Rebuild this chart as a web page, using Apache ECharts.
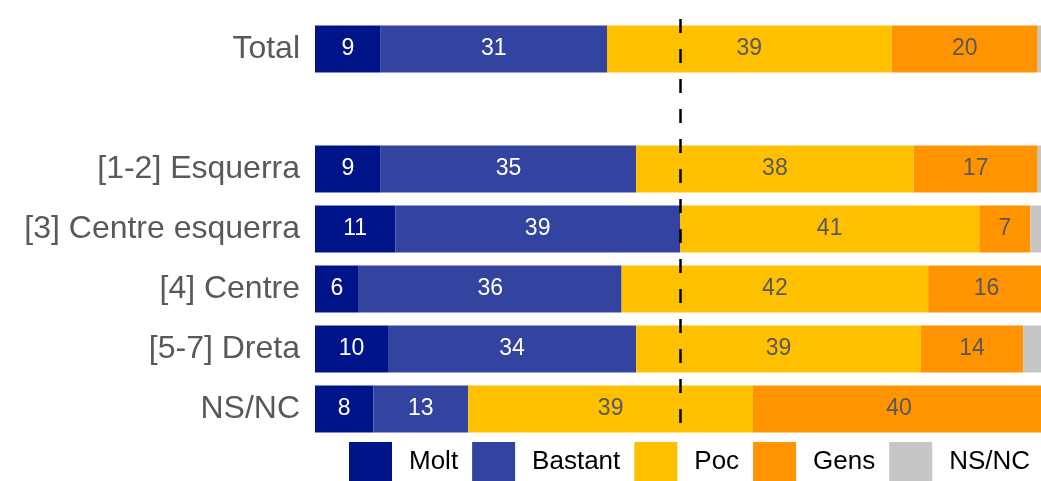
<!DOCTYPE html>
<html>
<head>
<meta charset="utf-8">
<style>
  html, body { margin: 0; padding: 0; background: #fff; }
  #chart { width: 1041px; height: 481px; }
</style>
<script src="https://cdn.jsdelivr.net/npm/echarts@6/dist/echarts.min.js"></script>
</head>
<body>
<div id="chart"></div>
<script>
// categories (the empty one is the gap under Total)
var categories = ['Total', '', '[1-2] Esquerra', '[3] Centre esquerra', '[4] Centre', '[5-7] Dreta', 'NS/NC'];

var molt    = [9,  '-', 9,  11, 6,  10, 8];
var bastant = [31, '-', 35, 39, 36, 34, 13];
var poc     = [39, '-', 38, 41, 42, 39, 39];
var gens    = [20, '-', 17, 7,  16, 14, 40];
var nsnc    = [1,  '-', 1,  2,  0,  3,  0];

var seriesNames = ['Molt', 'Bastant', 'Poc', 'Gens', 'NS/NC'];
var colors = ['#00148a', '#3343a0', '#ffc000', '#ff9400', '#c6c6c6'];
var labelColors = ['#ffffff', '#ffffff', '#595959', '#595959', null];
var midLine = 50;

var chart = echarts.init(document.getElementById('chart'));

var values = [molt, bastant, poc, gens, nsnc];
var series = [];
for (var i = 0; i < values.length; i++) {
    var s = {
        name: seriesNames[i],
        type: 'bar',
        stack: 'total',
        barWidth: 47,
        data: values[i],
        itemStyle: {color: colors[i]},
        label: {
            show: labelColors[i] !== null,
            position: 'inside',
            color: labelColors[i] || '#595959',
            fontSize: 23,
            fontFamily: 'Liberation Sans, Arial, sans-serif'
        }
    };
    if (i === 0) {
        // linia discontinua al 50%
        s.markLine = {
            silent: true,
            symbol: ['none', 'none'],
            label: {show: false},
            lineStyle: {color: '#000', width: 2.5, type: [14, 16]},
            data: [{xAxis: midLine}]
        };
    }
    series.push(s);
}

chart.setOption({
    animation: false,
    grid: {left: 315, top: 19, width: 730, height: 420, outerBoundsMode: 'none', containLabel: false},
    xAxis: {
        type: 'value',
        min: 0,
        max: 100,
        show: false
    },
    yAxis: {
        type: 'category',
        data: categories,
        inverse: true,
        axisLine: {show: false},
        axisTick: {show: false},
        axisLabel: {
            margin: 15,
            color: '#595959',
            fontSize: 32,
            fontFamily: 'Liberation Sans, Arial, sans-serif'
        }
    },
    legend: {
        left: 349,
        top: 442,
        padding: 0,
        itemWidth: 43,
        itemHeight: 40,
        itemGap: 14,
        icon: 'rect',
        textStyle: {
            color: '#000',
            fontSize: 26,
            padding: [0, 0, 0, 12],
            fontFamily: 'Liberation Sans, Arial, sans-serif'
        },
        data: seriesNames
    },
    series: series
});
</script>
</body>
</html>
